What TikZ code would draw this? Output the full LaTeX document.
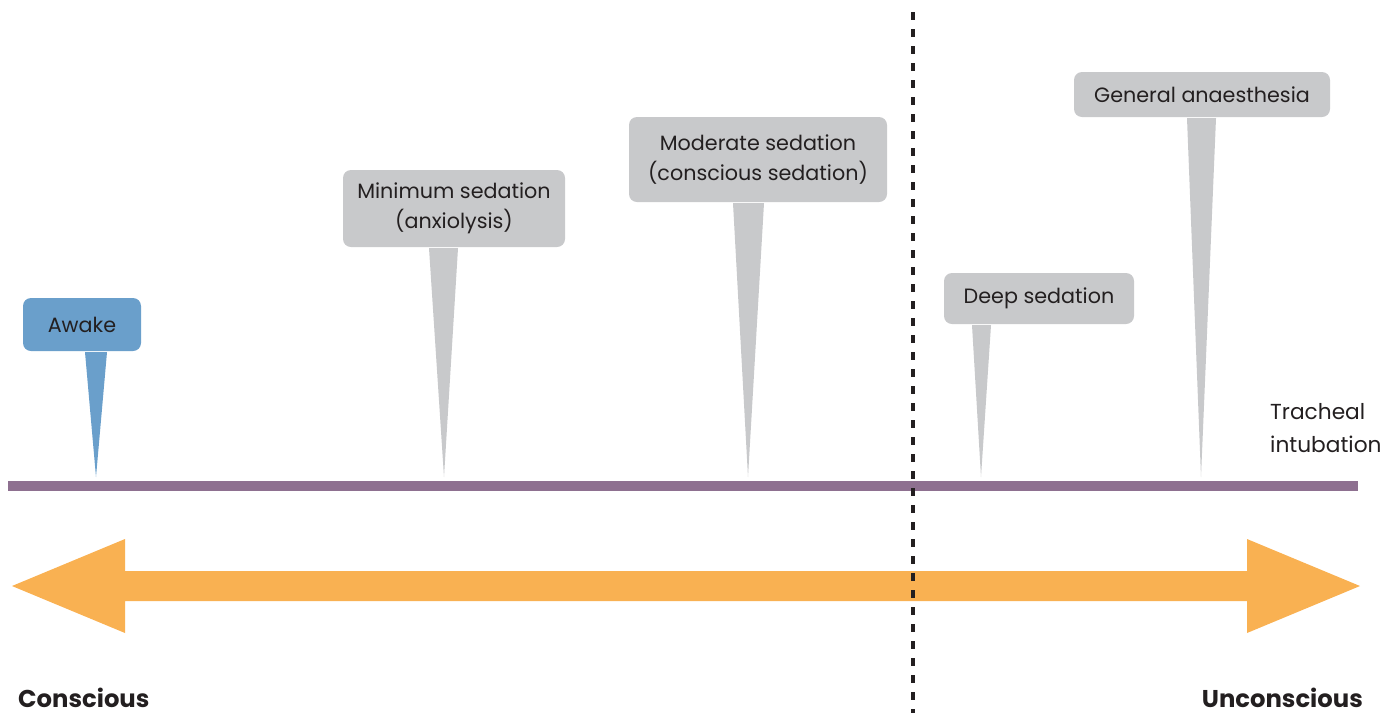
\documentclass[tikz,border=0pt]{standalone}
\usepackage{fontspec}
\setmainfont{Poppins}
\usetikzlibrary{calc}
\definecolor{boxgray}{HTML}{C8C9CB}
\definecolor{boxblue}{HTML}{6A9FCB}
\definecolor{linepurple}{HTML}{8E7090}
\definecolor{arroworange}{HTML}{F9B152}
\definecolor{txt}{HTML}{231F20}
\begin{document}
\begin{tikzpicture}[x=1pt,y=-1pt,
  callout/.style={rounded corners=8pt, inner sep=0pt, align=center, text=txt,
    font=\fontsize{20.7}{30}\selectfont},
  graybox/.style={callout, fill=boxgray},
  bluebox/.style={callout, fill=boxblue},
  endlabel/.style={text=txt, font=\fontsize{24.3}{28}\selectfont\bfseries, inner sep=0pt},
  divider/.style={draw=txt, line width=3.5pt, dash pattern=on 8pt off 9pt}
]
\useasboundingbox (0,0) rectangle (1397,713);

% timeline
\coordinate (lineL) at (8,486);
\coordinate (lineR) at (1358,486);
\draw[linepurple, line width=10pt] (lineL) -- (lineR);

% double arrow
\fill[arroworange] (12,586) -- (125,539) -- (125,571) -- (1247,571) -- (1247,539)
  -- (1360,586) -- (1247,633) -- (1247,601) -- (125,601) -- (125,633) -- cycle;

% callouts
\node[bluebox, minimum width=118pt, minimum height=53pt] (awake) at (82,324.5) {Awake};
\node[graybox, minimum width=222pt, minimum height=77pt] (min) at (454,208.5) {Minimum sedation\\(anxiolysis)};
\node[graybox, minimum width=258pt, minimum height=85pt] (mod) at (758,159.5) {Moderate sedation\\(conscious sedation)};
\node[graybox, minimum width=190pt, minimum height=51pt] (deep) at (1039,298.5) {Deep sedation};
\node[graybox, minimum width=256pt, minimum height=45pt] (gen) at (1202,94.5) {General anaesthesia};

\coordinate (tipA) at (96,477);
\coordinate (tipMin) at (444,477);
\coordinate (tipMod) at (748,477);
\coordinate (tipDeep) at (981,477);
\coordinate (tipGen) at (1201,477);

\fill[boxblue] ($(awake.south)+(3,1)$) -- ($(awake.south)+(25,1)$) -- (tipA) -- cycle;
\fill[boxgray] ($(min.south)+(-25,1)$) -- ($(min.south)+(4,1)$) -- (tipMin) -- cycle;
\fill[boxgray] ($(mod.south)+(-25,1)$) -- ($(mod.south)+(6,1)$) -- (tipMod) -- cycle;
\fill[boxgray] ($(deep.south)+(-67,1)$) -- ($(deep.south)+(-48,1)$) -- (tipDeep) -- cycle;
\fill[boxgray] ($(gen.south)+(-15,1)$) -- ($(gen.south)+(14,1)$) -- (tipGen) -- cycle;

% labels
\node[anchor=west, align=left, text=txt, inner sep=0pt,
  font=\fontsize{21.7}{33}\selectfont] (trach) at (1270,428) {Tracheal\\intubation};
\node[endlabel, anchor=base west] (con) at (18,707) {Conscious};
\node[endlabel, anchor=base east] (uncon) at (1363,707) {Unconscious};

% divider
\coordinate (divTop) at (913,12);
\coordinate (divBot) at (913,713);
\draw[divider] (divTop) -- (divBot);
\end{tikzpicture}
\end{document}
